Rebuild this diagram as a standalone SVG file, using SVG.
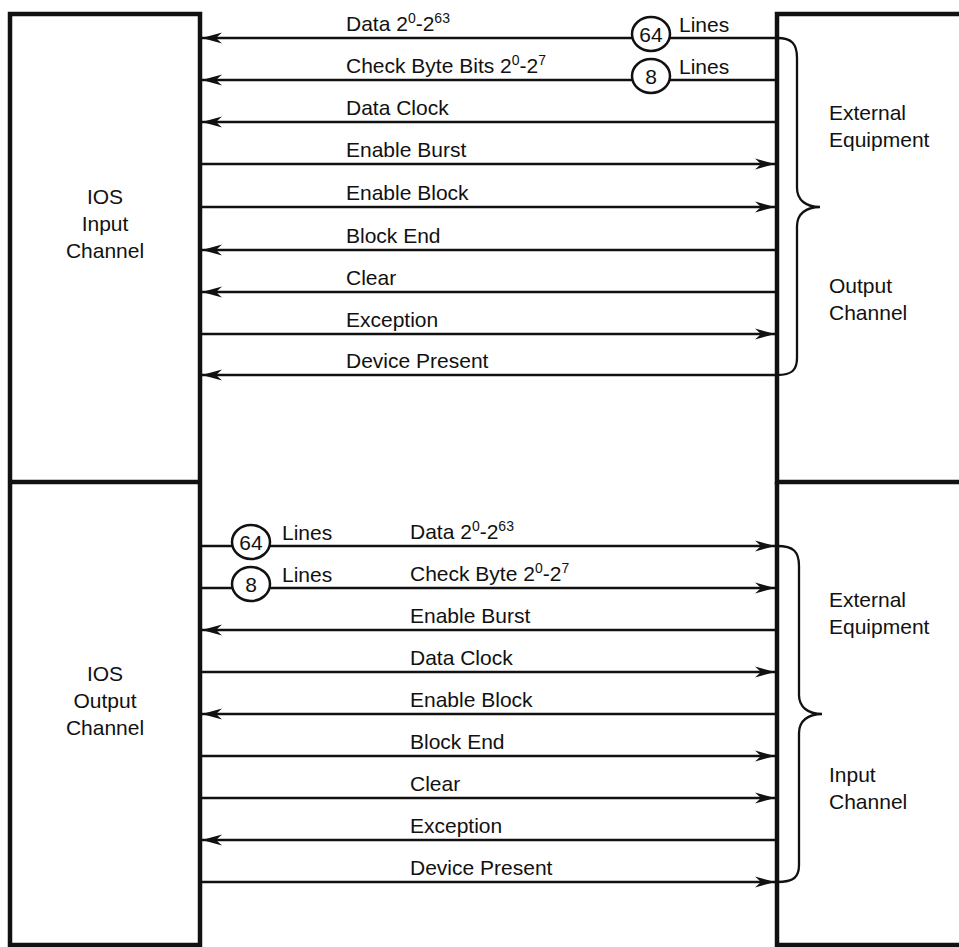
<svg xmlns="http://www.w3.org/2000/svg" width="959" height="947" viewBox="0 0 959 947">
<style>
text{font-family:"Liberation Sans",Arial,Helvetica,sans-serif;font-size:21px;fill:#111}
.box{fill:none;stroke:#111;stroke-width:4.5}
.sig{stroke:#111;stroke-width:2.3;fill:none}
.brace{stroke:#111;stroke-width:2.3;fill:none}
.ring{fill:#fff;stroke:#111;stroke-width:2.5}
.mid{text-anchor:middle}
.sup{font-size:14px}
</style>
<defs>
<marker id="ah" markerUnits="userSpaceOnUse" orient="auto" viewBox="-22 -7 24 14" markerWidth="24" markerHeight="14" refX="0" refY="0">
<path d="M0,0 L-20,-5.5 L-14,0 L-20,5.5 Z" fill="#111"/>
</marker>
</defs>
<rect width="959" height="947" fill="#fff"/>

<g id="ios-input">
<path class="box" d="M10,947 V14 H200 V482 M10,482 H200"/>
<text class="mid" x="105" y="204">IOS</text>
<text class="mid" x="105" y="231">Input</text>
<text class="mid" x="105" y="258">Channel</text>
</g>
<g id="ios-output">
<path class="box" d="M200,482 V947 M10,945 H200"/>
<text class="mid" x="105" y="681">IOS</text>
<text class="mid" x="105" y="708">Output</text>
<text class="mid" x="105" y="735">Channel</text>
</g>
<g id="ext-output">
<path class="box" d="M959,14 H777 V482 H959"/>
<text x="829" y="120">External</text>
<text x="829" y="147">Equipment</text>
<text x="829" y="293">Output</text>
<text x="829" y="320">Channel</text>
</g>
<g id="ext-input">
<path class="box" d="M777,482 V947 M777,945 H959"/>
<text x="829" y="607">External</text>
<text x="829" y="634">Equipment</text>
<text x="829" y="782">Input</text>
<text x="829" y="809">Channel</text>
</g>

<g id="connectors">
<!-- top section -->
<line class="sig" x1="775" y1="38" x2="202" y2="38" marker-end="url(#ah)"/>
<line class="sig" x1="775" y1="80" x2="202" y2="80" marker-end="url(#ah)"/>
<line class="sig" x1="775" y1="122" x2="202" y2="122" marker-end="url(#ah)"/>
<line class="sig" x1="202" y1="164" x2="775" y2="164" marker-end="url(#ah)"/>
<line class="sig" x1="202" y1="207" x2="775" y2="207" marker-end="url(#ah)"/>
<line class="sig" x1="775" y1="250" x2="202" y2="250" marker-end="url(#ah)"/>
<line class="sig" x1="775" y1="292" x2="202" y2="292" marker-end="url(#ah)"/>
<line class="sig" x1="202" y1="334" x2="775" y2="334" marker-end="url(#ah)"/>
<line class="sig" x1="775" y1="375" x2="202" y2="375" marker-end="url(#ah)"/>
<!-- bottom section -->
<line class="sig" x1="202" y1="546" x2="775" y2="546" marker-end="url(#ah)"/>
<line class="sig" x1="202" y1="588" x2="775" y2="588" marker-end="url(#ah)"/>
<line class="sig" x1="775" y1="630" x2="202" y2="630" marker-end="url(#ah)"/>
<line class="sig" x1="202" y1="672" x2="775" y2="672" marker-end="url(#ah)"/>
<line class="sig" x1="775" y1="714" x2="202" y2="714" marker-end="url(#ah)"/>
<line class="sig" x1="202" y1="756" x2="775" y2="756" marker-end="url(#ah)"/>
<line class="sig" x1="202" y1="798" x2="775" y2="798" marker-end="url(#ah)"/>
<line class="sig" x1="775" y1="840" x2="202" y2="840" marker-end="url(#ah)"/>
<line class="sig" x1="202" y1="882" x2="775" y2="882" marker-end="url(#ah)"/>

<path class="brace" d="M777,38 C792,38 797,44 797,58 V188 C797,200 806,207 820,207 C806,207 797,214 797,226 V358 C797,370 792,375 777,375"/>
<path class="brace" d="M777,546 C794,546 799,552 799,566 V695 C799,707 808,714 822,714 C808,714 799,721 799,733 V865 C799,877 794,882 777,882"/>

<ellipse class="ring" cx="651" cy="34" rx="19" ry="17"/>
<ellipse class="ring" cx="651" cy="76" rx="19" ry="17"/>
<ellipse class="ring" cx="251" cy="542" rx="19" ry="17"/>
<ellipse class="ring" cx="251" cy="584" rx="19" ry="17"/>
</g>

<g id="labels">
<text class="mid" x="651" y="42">64</text>
<text class="mid" x="651" y="84">8</text>
<text x="679" y="32">Lines</text>
<text x="679" y="74">Lines</text>
<text class="mid" x="251" y="550">64</text>
<text class="mid" x="251" y="592">8</text>
<text x="282" y="540">Lines</text>
<text x="282" y="582">Lines</text>

<text x="346" y="31">Data 2<tspan class="sup" dy="-8">0</tspan><tspan dy="8">-2</tspan><tspan class="sup" dy="-8">63</tspan></text>
<text x="346" y="73">Check Byte Bits 2<tspan class="sup" dy="-8">0</tspan><tspan dy="8">-2</tspan><tspan class="sup" dy="-8">7</tspan></text>
<text x="346" y="115">Data Clock</text>
<text x="346" y="157">Enable Burst</text>
<text x="346" y="200">Enable Block</text>
<text x="346" y="243">Block End</text>
<text x="346" y="285">Clear</text>
<text x="346" y="327">Exception</text>
<text x="346" y="368">Device Present</text>

<text x="410" y="539">Data 2<tspan class="sup" dy="-8">0</tspan><tspan dy="8">-2</tspan><tspan class="sup" dy="-8">63</tspan></text>
<text x="410" y="581">Check Byte 2<tspan class="sup" dy="-8">0</tspan><tspan dy="8">-2</tspan><tspan class="sup" dy="-8">7</tspan></text>
<text x="410" y="623">Enable Burst</text>
<text x="410" y="665">Data Clock</text>
<text x="410" y="707">Enable Block</text>
<text x="410" y="749">Block End</text>
<text x="410" y="791">Clear</text>
<text x="410" y="833">Exception</text>
<text x="410" y="875">Device Present</text>
</g>
</svg>
